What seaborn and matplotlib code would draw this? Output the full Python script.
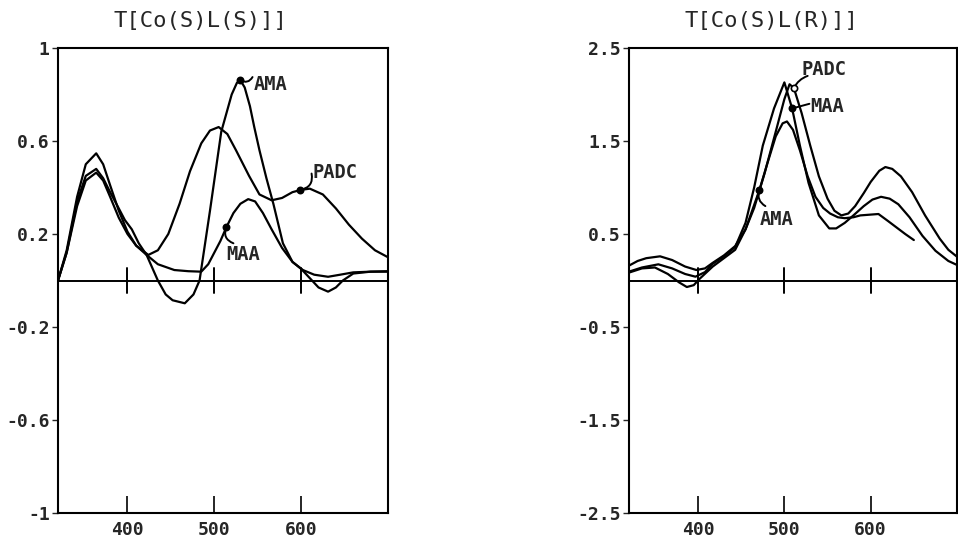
import numpy as np
import pandas as pd
import matplotlib
matplotlib.use("Agg")
import matplotlib.pyplot as plt
import seaborn as sns

# ---------------- data ----------------
# Left panel: T[Co(S)L(S)]]
L_PADC_x = [320, 330, 342, 352, 364, 372, 380, 390, 400, 410, 424, 435, 447, 460, 472, 485, 495, 505, 515, 525, 540, 552, 566, 578, 590, 600, 610, 625, 640, 655, 670, 685, 700]
L_PADC_y = [0.0, 0.13, 0.36, 0.50, 0.547, 0.50, 0.41, 0.30, 0.21, 0.15, 0.11, 0.13, 0.20, 0.33, 0.47, 0.59, 0.645, 0.66, 0.63, 0.56, 0.45, 0.37, 0.345, 0.355, 0.38, 0.39, 0.395, 0.37, 0.31, 0.24, 0.18, 0.13, 0.10]

L_MAA_x = [320, 330, 342, 352, 364, 372, 380, 390, 400, 410, 422, 435, 454, 470, 485, 493, 500, 507, 514, 522, 530, 539, 547, 556, 566, 578, 590, 602, 615, 631, 645, 660, 680, 700]
L_MAA_y = [0.0, 0.12, 0.32, 0.43, 0.464, 0.43, 0.36, 0.27, 0.20, 0.15, 0.11, 0.07, 0.045, 0.04, 0.038, 0.07, 0.12, 0.17, 0.23, 0.29, 0.33, 0.35, 0.34, 0.29, 0.22, 0.14, 0.08, 0.045, 0.025, 0.016, 0.025, 0.035, 0.038, 0.038]

L_AMA_x = [320, 330, 342, 352, 364, 372, 380, 390, 397, 405, 413, 422, 435, 444, 452, 466, 476, 483, 495, 508, 520, 526, 530, 535, 541, 546, 552, 560, 568, 579, 590, 600, 610, 620, 631, 640, 648, 660, 680, 700]
L_AMA_y = [0.0, 0.12, 0.34, 0.45, 0.48, 0.44, 0.38, 0.31, 0.26, 0.22, 0.16, 0.11, 0.0, -0.06, -0.085, -0.098, -0.06, 0.0, 0.30, 0.64, 0.80, 0.85, 0.862, 0.83, 0.75, 0.66, 0.56, 0.44, 0.33, 0.16, 0.08, 0.05, 0.01, -0.03, -0.048, -0.03, 0.0, 0.03, 0.038, 0.04]

# Right panel: T[Co(S)L(R)]]
R_PADC_x = [320, 330, 340, 356, 370, 385, 398, 408, 417, 430, 443, 455, 465, 477, 490, 500, 506, 511, 520, 530, 540, 550, 558, 566, 574, 582, 592, 600, 610, 617, 625, 635, 648, 663, 680, 690, 700]
R_PADC_y = [0.16, 0.21, 0.24, 0.26, 0.22, 0.15, 0.113, 0.13, 0.19, 0.27, 0.37, 0.55, 0.78, 1.15, 1.60, 1.95, 2.11, 2.07, 1.80, 1.45, 1.12, 0.88, 0.75, 0.70, 0.72, 0.80, 0.94, 1.06, 1.18, 1.22, 1.20, 1.12, 0.95, 0.70, 0.45, 0.33, 0.256]

R_MAA_x = [320, 335, 354, 370, 385, 397, 408, 417, 430, 443, 455, 465, 475, 488, 500, 509, 518, 528, 540, 552, 560, 570, 580, 592, 602, 612, 622, 632, 645, 660, 675, 690, 700]
R_MAA_y = [0.095, 0.14, 0.174, 0.13, 0.07, 0.041, 0.09, 0.18, 0.26, 0.36, 0.62, 1.00, 1.45, 1.85, 2.13, 1.85, 1.45, 1.05, 0.70, 0.56, 0.56, 0.62, 0.70, 0.80, 0.87, 0.90, 0.88, 0.82, 0.68, 0.48, 0.32, 0.21, 0.167]

R_AMA_x = [320, 335, 350, 365, 378, 387, 395, 402, 417, 430, 443, 455, 463, 471, 480, 490, 498, 503, 510, 518, 527, 536, 545, 553, 562, 570, 580, 588, 596, 609, 620, 630, 640, 650]
R_AMA_y = [0.085, 0.13, 0.14, 0.07, -0.02, -0.07, -0.05, 0.02, 0.15, 0.24, 0.33, 0.55, 0.76, 0.97, 1.25, 1.55, 1.69, 1.71, 1.62, 1.40, 1.12, 0.90, 0.78, 0.72, 0.68, 0.67, 0.68, 0.70, np.nan, 0.715, 0.64, 0.57, 0.50, 0.435]

L_yticks = [1, 0.6, 0.2, -0.2, -0.6, -1]
L_yticklabels = ["1", "0.6", "0.2", "-0.2", "-0.6", "-1"]
R_yticks = [2.5, 1.5, 0.5, -0.5, -1.5, -2.5]
R_yticklabels = ["2.5", "1.5", "0.5", "-0.5", "-1.5", "-2.5"]
xticks = [400, 500, 600]
xticklabels = ["400", "500", "600"]
titles = ["T[Co(S)L(S)]]", "T[Co(S)L(R)]]"]

# ---------------- style ----------------
sns.set_style("ticks")
plt.rcParams['font.family'] = ['DejaVu Sans Mono', 'DejaVu Sans']
plt.rcParams['font.weight'] = 'bold'

fig = plt.figure(figsize=(9.58, 5.41), dpi=100)
W, H = 958.0, 541.0
axL = fig.add_axes([58 / W, 1 - 513 / H, 330 / W, 465 / H])
axR = fig.add_axes([629 / W, 1 - 513 / H, 328 / W, 465 / H])

LW = 1.6

def draw_panel(ax, series, ylim, yticks, yticklabels, title, zero_tick):
    for xs, ys in series:
        df = pd.DataFrame({"x": xs, "y": ys})
        sns.lineplot(data=df, x="x", y="y", ax=ax, color="black", lw=LW, sort=False, estimator=None)
    ax.set_xlim(320, 700)
    ax.set_ylim(*ylim)
    ax.axhline(0, color="black", lw=1.4, zorder=1)
    ax.set_yticks(yticks)
    ax.set_yticklabels(yticklabels, fontsize=13, fontweight="bold")
    ax.set_xticks(xticks)
    ax.set_xticklabels(xticklabels, fontsize=13, fontweight="bold")
    ax.tick_params(axis="x", direction="in", length=12, width=1.4, pad=6)
    ax.tick_params(axis="y", direction="out", length=4, width=1.0, pad=2)
    for s in ax.spines.values():
        s.set_visible(True)
        s.set_linewidth(1.5)
        s.set_color("black")
    # crossing tick marks on the zero line
    for t in xticks:
        ax.plot([t, t], [-zero_tick, zero_tick], color="black", lw=1.4, zorder=1)
    ax.set_xlabel("")
    ax.set_ylabel("")
    ax.text(0.433, 1.059, title, transform=ax.transAxes, ha="center", va="center",
            fontsize=16, fontweight="normal")

draw_panel(axL, [(L_PADC_x, L_PADC_y), (L_MAA_x, L_MAA_y), (L_AMA_x, L_AMA_y)],
           (-1, 1), L_yticks, L_yticklabels, titles[0], 0.053)
draw_panel(axR, [(R_PADC_x, R_PADC_y), (R_MAA_x, R_MAA_y), (R_AMA_x, R_AMA_y)],
           (-2.5, 2.5), R_yticks, R_yticklabels, titles[1], 0.13)

lab = dict(fontsize=13.5, fontweight="bold", va="center", ha="left")

def pointer(ax, p, q, rad, filled=True):
    ax.plot([p[0]], [p[1]], marker="o", ms=4.5, color="black",
            mfc="black" if filled else "white", mew=1.2, zorder=5)
    ax.annotate("", xy=p, xytext=q,
                arrowprops=dict(arrowstyle="-", color="black", lw=1.4,
                                connectionstyle=f"arc3,rad={rad}", shrinkA=0, shrinkB=0))

# left labels
pointer(axL, (530, 0.862), (544, 0.875), -0.5)
axL.text(545, 0.845, "AMA", **lab)
pointer(axL, (599, 0.39), (612, 0.46), -0.5)
axL.text(613, 0.465, "PADC", **lab)
pointer(axL, (514, 0.23), (522, 0.16), -0.5)
axL.text(514, 0.11, "MAA", **lab)

# right labels
pointer(axR, (511, 2.07), (527, 2.2), 0.2, filled=False)
axR.text(520, 2.27, "PADC", **lab)
pointer(axR, (509, 1.85), (529, 1.9), 0.0)
axR.text(530, 1.87, "MAA", **lab)
pointer(axR, (471, 0.97), (478, 0.8), -0.4)
axR.text(472, 0.66, "AMA", **lab)

fig.savefig("out.png", dpi=100)
